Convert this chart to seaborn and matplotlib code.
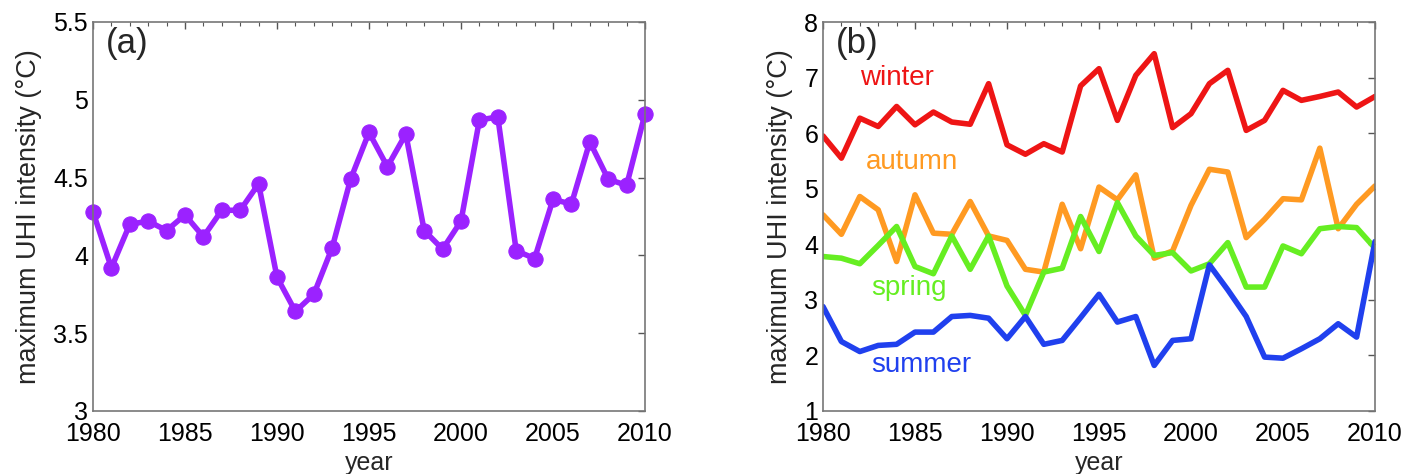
import numpy as np
import pandas as pd
import matplotlib
matplotlib.use("Agg")
import matplotlib.pyplot as plt
import seaborn as sns
from matplotlib.ticker import MultipleLocator, FuncFormatter

years = list(range(1980, 2011))
annual = [4.28, 3.92, 4.20, 4.22, 4.16, 4.26, 4.12, 4.29, 4.29, 4.46,
          3.86, 3.64, 3.75, 4.05, 4.49, 4.79, 4.57, 4.78, 4.16, 4.04,
          4.22, 4.87, 4.89, 4.03, 3.98, 4.36, 4.33, 4.73, 4.49, 4.45, 4.91]
winter = [5.95, 5.55, 6.27, 6.12, 6.48, 6.15, 6.38, 6.20, 6.16, 6.89,
          5.79, 5.62, 5.81, 5.66, 6.85, 7.16, 6.23, 7.04, 7.43, 6.10,
          6.35, 6.89, 7.13, 6.05, 6.23, 6.77, 6.59, 6.66, 6.74, 6.47, 6.66]
autumn = [4.53, 4.18, 4.86, 4.62, 3.69, 4.89, 4.20, 4.18, 4.77, 4.15,
          4.07, 3.55, 3.50, 4.72, 3.92, 5.03, 4.80, 5.25, 3.75, 3.88,
          4.70, 5.35, 5.30, 4.12, 4.45, 4.82, 4.80, 5.73, 4.28, 4.72, 5.05]
spring = [3.78, 3.75, 3.65, 3.98, 4.32, 3.60, 3.47, 4.15, 3.55, 4.15,
          3.25, 2.72, 3.50, 3.57, 4.50, 3.87, 4.75, 4.15, 3.80, 3.85,
          3.52, 3.65, 4.03, 3.23, 3.23, 3.97, 3.83, 4.28, 4.32, 4.30, 3.93]
summer = [2.88, 2.25, 2.07, 2.18, 2.20, 2.42, 2.42, 2.70, 2.72, 2.67,
          2.30, 2.70, 2.20, 2.27, 2.68, 3.10, 2.60, 2.70, 1.82, 2.27,
          2.30, 3.63, 3.18, 2.70, 1.97, 1.95, 2.12, 2.30, 2.57, 2.33, 4.05]
seasons = ["winter", "autumn", "spring", "summer"]
season_colors = {"winter": "#ee1515", "autumn": "#ff9a22",
                 "spring": "#66ee22", "summer": "#2040ee"}
purple = "#9b22ff"

sns.set_theme(style="white")
plt.rcParams["font.family"] = ["Liberation Sans", "DejaVu Sans"]

fig = plt.figure(figsize=(14.04, 4.74), dpi=100)
W, H = 1404, 474
axa = fig.add_axes([93 / W, 1 - 411 / H, 552 / W, 389 / H])
axb = fig.add_axes([823 / W, 1 - 411 / H, 552 / W, 389 / H])

dfa = pd.DataFrame({"year": years, "uhi": annual})
sns.lineplot(data=dfa, x="year", y="uhi", ax=axa, color=purple, lw=4,
             marker="o", markersize=11, markeredgecolor=purple, clip_on=False)

dfb = pd.DataFrame({"year": years * 4,
                    "uhi": winter + autumn + spring + summer,
                    "season": sum([[s] * len(years) for s in seasons], [])})
sns.lineplot(data=dfb, x="year", y="uhi", hue="season", palette=season_colors,
             ax=axb, lw=4, legend=False)

axa.set_ylim(3, 5.5)
axa.yaxis.set_major_locator(MultipleLocator(0.5))
axa.yaxis.set_major_formatter(FuncFormatter(lambda v, p: f"{v:g}"))
axb.set_ylim(1, 8)
axb.yaxis.set_major_locator(MultipleLocator(1))
axb.yaxis.set_major_formatter(FuncFormatter(lambda v, p: f"{v:g}"))

for ax in (axa, axb):
    ax.set_xlim(1980, 2010)
    ax.xaxis.set_major_locator(MultipleLocator(5))
    ax.xaxis.set_minor_locator(MultipleLocator(1))
    ax.tick_params(which="both", direction="in", top=True, right=True,
                   colors="#555555", labelcolor="black", labelsize=18)
    ax.tick_params(axis="x", which="both", pad=8)
    ax.tick_params(axis="y", which="both", pad=3.5)
    ax.tick_params(which="major", length=5, width=1)
    ax.tick_params(which="minor", length=3, width=0.8)
    for s in ax.spines.values():
        s.set_color("#777777")
        s.set_linewidth(1.2)
    ax.set_xlabel("year", fontsize=18, labelpad=3.5)
    ax.set_ylabel("maximum UHI intensity (°C)", fontsize=19.5, labelpad=8)

axa.text(0.024, 0.987, "(a)", transform=axa.transAxes, fontsize=25,
         va="top", ha="left")
axb.text(0.024, 0.987, "(b)", transform=axb.transAxes, fontsize=25,
         va="top", ha="left")

label_pos = {"winter": (1982.0, 7.0), "autumn": (1982.35, 5.48),
             "spring": (1982.6, 3.21), "summer": (1982.6, 1.83)}
for s in seasons:
    x, y = label_pos[s]
    axb.text(x, y, s, color=season_colors[s], fontsize=20, va="center",
             ha="left")

fig.savefig("out.png", dpi=100)
